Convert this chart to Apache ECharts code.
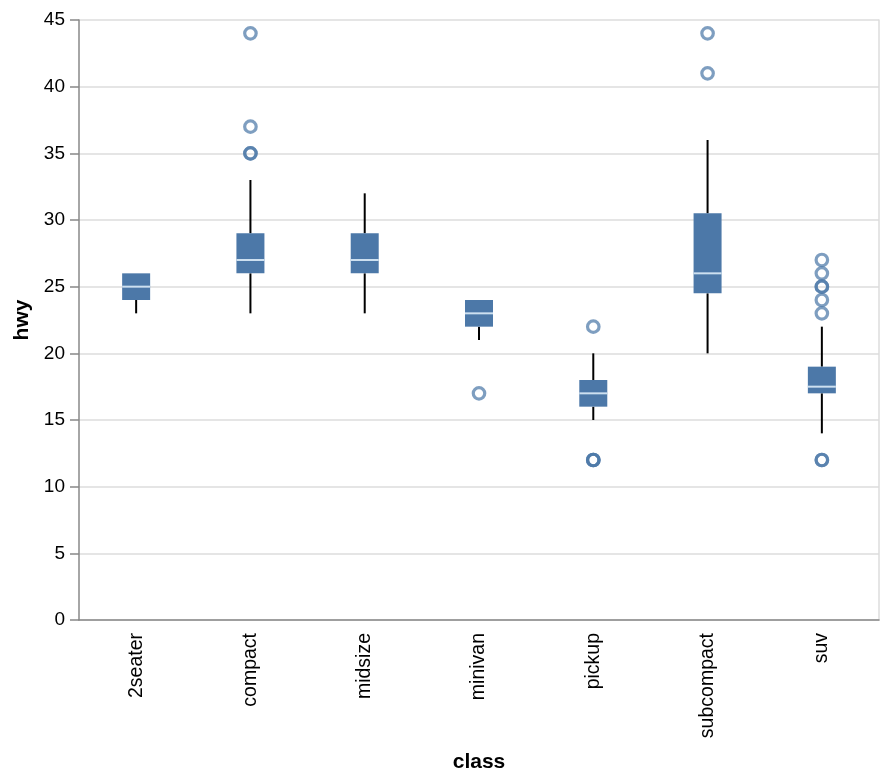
<!DOCTYPE html>
<html><head><meta charset="utf-8">
<script src="https://cdn.jsdelivr.net/npm/echarts@6/dist/echarts.min.js"></script>
<style>html,body{margin:0;padding:0;background:#fff}#c{width:888px;height:782px}</style>
</head><body><div id="c"></div>
<script>
const categories = ['2seater','compact','midsize','minivan','pickup','subcompact','suv'];
const whiskerLow  = [23, 23, 23, 21, 15, 20,   14];
const q1Values    = [24, 26, 26, 22, 16, 24.5, 17];
const medianValues= [25, 27, 27, 23, 17, 26,   17.5];
const q3Values    = [26, 29, 29, 24, 18, 30.5, 19];
const whiskerHigh = [26, 33, 32, 24, 20, 36,   22];
const outlierCats = ['compact','compact','compact','compact','minivan','pickup','pickup','pickup','pickup','subcompact','subcompact','suv','suv','suv','suv','suv','suv','suv','suv'];
const outlierVals = [44, 37, 35, 35, 17, 22, 12, 12, 12, 44, 41, 27, 26, 25, 25, 24, 23, 12, 12];
const yTicks = [0, 5, 10, 15, 20, 25, 30, 35, 40, 45];

const boxData = categories.map((c, i) => [i, whiskerLow[i], q1Values[i], medianValues[i], q3Values[i], whiskerHigh[i]]);
const outlierData = outlierCats.map((c, i) => [categories.indexOf(c), outlierVals[i]]);

const chart = echarts.init(document.getElementById('c'));
const font = 'Liberation Sans, Arial, sans-serif';
const BOXW = 28;
chart.setOption({
  animation: false,
  grid: {left: 79, right: 9, top: 20, bottom: 162, containLabel: false, outerBoundsMode: 'none'},
  xAxis: {
    type: 'category', data: categories,
    name: 'class', nameLocation: 'middle', nameGap: 132,
    nameTextStyle: {fontFamily: font, fontSize: 21, fontWeight: 'bold', color: '#000'},
    axisLine: {lineStyle: {color: '#888', width: 1.5}},
    axisTick: {alignWithLabel: true, length: 9, lineStyle: {color: '#888', width: 1.5}},
    axisLabel: {rotate: 90, fontFamily: font, fontSize: 19.5, color: '#000', margin: 13},
    splitLine: {show: false}
  },
  yAxis: [{
    type: 'value', min: yTicks[0], max: yTicks[yTicks.length-1], interval: 5,
    name: 'hwy', nameLocation: 'middle', nameGap: 45, nameRotate: 90,
    nameTextStyle: {fontFamily: font, fontSize: 21, fontWeight: 'bold', color: '#000'},
    axisLine: {show: true, lineStyle: {color: '#888', width: 1.5}},
    axisTick: {show: true, length: 9, lineStyle: {color: '#888', width: 1.5}},
    axisLabel: {fontFamily: font, fontSize: 19, color: '#000', margin: 14},
    splitLine: {lineStyle: {color: '#ddd', width: 1.5}}
  }, {
    type: 'value', position: 'right', min: 0, max: 45, interval: 5,
    axisLine: {show: true, lineStyle: {color: '#ddd', width: 1.5}},
    axisTick: {show: false}, axisLabel: {show: false}, splitLine: {show: false}
  }],
  series: [{
    type: 'custom',
    data: boxData,
    encode: {x: 0, y: [1,2,3,4,5]},
    renderItem: function (params, api) {
      const x = api.value(0);
      const pLow = api.coord([x, api.value(1)]);
      const pQ1 = api.coord([x, api.value(2)]);
      const pMed = api.coord([x, api.value(3)]);
      const pQ3 = api.coord([x, api.value(4)]);
      const pHigh = api.coord([x, api.value(5)]);
      const cx = pLow[0];
      return {type: 'group', children: [
        {type: 'line', shape: {x1: cx, y1: pLow[1], x2: cx, y2: pQ1[1]}, style: {stroke: '#000', lineWidth: 2}},
        {type: 'line', shape: {x1: cx, y1: pQ3[1], x2: cx, y2: pHigh[1]}, style: {stroke: '#000', lineWidth: 2}},
        {type: 'rect', shape: {x: cx - BOXW/2, y: pQ3[1], width: BOXW, height: pQ1[1] - pQ3[1]}, style: {fill: '#4c78a8', stroke: null}},
        {type: 'line', shape: {x1: cx - BOXW/2, y1: pMed[1], x2: cx + BOXW/2, y2: pMed[1]}, style: {stroke: '#cde0f0', lineWidth: 2}}
      ]};
    }
  }, {
    type: 'scatter',
    data: outlierData,
    symbol: 'circle', symbolSize: 11.5,
    itemStyle: {color: 'rgba(0,0,0,0)', borderColor: '#4c78a8', borderWidth: 3.2, opacity: 0.72},
    z: 5
  }]
});
</script></body></html>
